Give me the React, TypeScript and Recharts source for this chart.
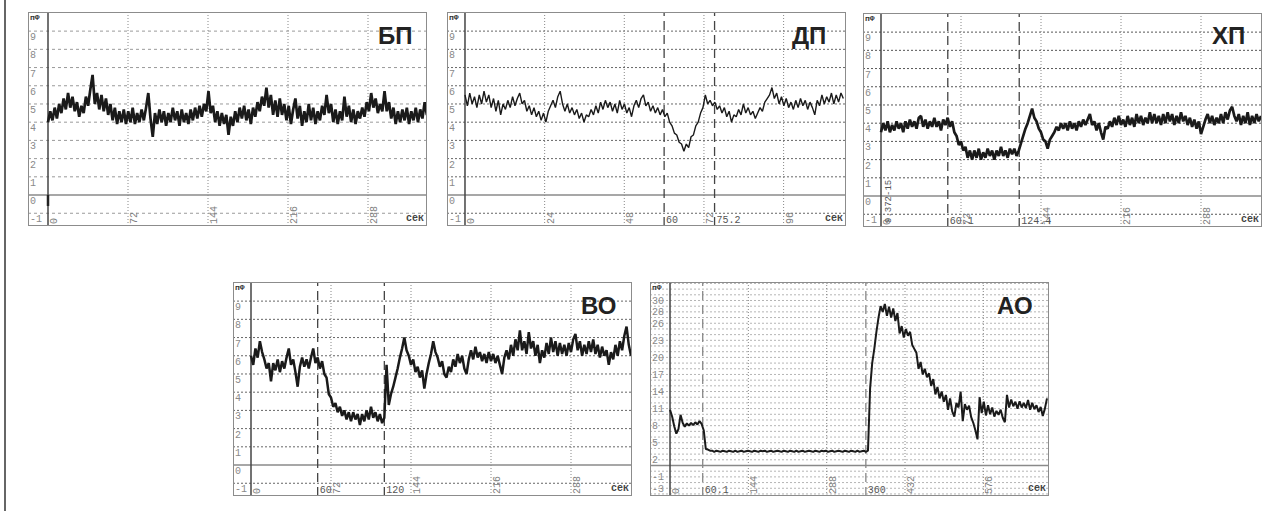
import { LineChart, Line, XAxis, YAxis, ReferenceLine } from 'recharts';

// readings, one value per sample, evenly spaced from 0 to the last second
const BP_VALUES = [
  4.0, 4.6, 4.1, 4.8, 4.2, 5.0, 4.5, 5.3, 4.7, 5.6,
  4.8, 5.4, 4.6, 5.1, 4.3, 4.9, 4.5, 5.4, 4.9, 5.8,
  6.6, 5.0, 5.6, 4.7, 5.5, 4.6, 5.3, 4.4, 5.0, 4.1,
  4.8, 3.9, 4.6, 4.0, 4.7, 3.9, 4.6, 4.0, 4.8, 3.9,
  4.5, 4.0, 4.7, 4.1, 4.8, 5.6, 4.2, 3.2, 4.5, 3.9,
  4.7, 4.0, 4.6, 3.8, 4.5, 4.0, 4.8, 4.1, 4.6, 3.8,
  4.7, 4.0, 4.5, 3.9, 4.7, 4.1, 4.8, 4.2, 4.9, 4.3,
  5.0, 4.6, 5.7, 4.5, 4.9, 4.0, 4.6, 3.8, 4.5, 3.9,
  4.4, 3.3, 4.3, 3.8, 4.6, 4.0, 4.8, 4.2, 4.9, 4.1,
  4.7, 3.9, 4.8, 4.3, 5.1, 4.6, 5.4, 4.9, 5.9, 4.8,
  5.5, 4.4, 5.2, 4.3, 5.3, 4.4, 5.0, 4.1, 4.9, 3.9,
  4.7, 5.3, 4.2, 4.9, 3.8, 4.6, 4.0, 5.0, 4.1, 4.8,
  3.9, 4.6, 4.1, 4.9, 4.4, 5.5, 4.5, 5.0, 4.0, 4.7,
  3.9, 4.6, 4.1, 5.4, 4.3, 4.9, 4.0, 4.7, 3.9, 4.6,
  4.2, 4.8, 4.3, 5.1, 4.6, 5.6, 4.8, 5.3, 4.5, 5.0,
  4.6, 5.7, 4.6, 5.1, 4.2, 4.8, 3.9, 4.6, 4.0, 4.7,
  4.1, 4.8, 3.9, 4.6, 4.1, 4.8, 4.0, 4.7, 4.2, 5.1,
  4.4,
];

const DP_VALUES = [
  5.5, 4.9, 5.6, 5.0, 5.4, 4.8, 5.5, 5.0, 5.7, 5.1,
  5.5, 4.8, 5.3, 4.6, 5.2, 4.4, 5.0, 4.7, 5.2, 4.8,
  5.4, 4.9, 5.3, 5.6, 5.0, 5.2, 4.6, 4.9, 4.4, 4.8,
  4.3, 4.6, 4.1, 4.5, 4.0, 4.6, 4.9, 5.2, 4.8, 5.4,
  5.7, 5.0, 4.6, 5.0, 4.5, 4.8, 4.4, 4.7, 4.2, 4.5,
  4.0, 4.4, 4.3, 4.7, 4.4, 4.9, 4.5, 5.1, 4.7, 5.2,
  4.8, 5.1, 4.6, 5.0, 4.5, 5.2, 4.7, 5.0, 4.5, 4.8,
  4.3, 4.9, 5.2, 4.8, 5.3, 5.5, 4.9, 5.1, 4.6, 4.9,
  4.5, 4.8, 4.4, 4.7, 4.3, 4.5, 4.0, 3.8, 3.4, 3.3,
  2.9, 2.8, 2.4, 2.8, 2.6, 3.2, 3.3, 3.8, 4.0, 4.5,
  4.8, 5.5, 5.0, 5.2, 4.9, 5.1, 4.7, 4.9, 4.5, 4.8,
  4.3, 4.6, 4.0, 4.4, 4.3, 4.7, 4.4, 5.0, 4.5, 4.8,
  4.4, 4.6, 4.2, 4.5, 4.8, 4.6, 5.1, 5.3, 5.5, 5.9,
  5.3, 5.6, 5.0, 5.4, 4.9, 5.3, 4.8, 5.1, 4.7, 5.2,
  4.8, 5.3, 4.9, 5.2, 4.7, 5.1, 4.8, 4.4, 5.2, 4.9,
  5.5, 5.0, 5.4, 5.1, 5.6, 5.0, 5.5, 5.1, 5.6, 5.3,
];

const XP_VALUES = [
  3.5, 4.0, 3.6, 4.1, 3.5, 3.9, 3.6, 4.1, 3.7, 4.0,
  3.5, 4.1, 3.7, 4.2, 3.8, 4.1, 3.7, 4.3, 4.4, 3.8,
  4.2, 3.7, 4.1, 3.8, 4.3, 3.8, 4.1, 3.6, 4.2, 3.9,
  4.3, 3.8, 4.1, 3.5, 3.3, 2.8, 3.0, 2.5, 2.7, 2.1,
  2.5, 2.0, 2.5, 2.1, 2.6, 2.0, 2.4, 2.1, 2.6, 2.2,
  2.5, 2.0, 2.5, 2.2, 2.7, 2.2, 2.5, 2.1, 2.6, 2.3,
  2.6, 2.2, 2.5, 2.9, 3.3, 3.7, 4.0, 4.4, 4.8, 4.3,
  4.1, 3.7, 3.5, 3.1, 3.0, 2.6, 3.1, 3.3, 3.5, 3.8,
  3.6, 4.0, 3.7, 4.0, 3.6, 4.1, 3.7, 4.0, 3.6, 4.1,
  3.8, 4.2, 3.9, 4.2, 4.5, 3.9, 4.1, 3.6, 4.0, 3.5,
  3.1, 3.8, 3.7, 4.1, 3.8, 4.3, 3.9, 4.4, 3.9, 4.2,
  3.8, 4.4, 3.9, 4.3, 3.8, 4.5, 4.0, 4.4, 3.9, 4.3,
  4.0, 4.6, 4.0, 4.5, 4.0, 4.4, 3.9, 4.5, 4.0, 4.6,
  4.1, 4.5, 3.9, 4.4, 4.0, 4.6, 4.1, 4.4, 3.9, 4.3,
  3.8, 4.2, 3.7, 4.1, 3.4, 3.8, 4.2, 4.5, 4.0, 4.4,
  3.9, 4.3, 4.0, 4.5, 4.0, 4.6, 4.2, 4.7, 4.9, 4.4,
  4.1, 4.5, 3.9, 4.4, 4.0, 4.6, 3.9, 4.4, 4.0, 4.5,
  4.1, 4.4,
];

const VO_VALUES = [
  6.0, 5.5, 6.4, 5.9, 6.8, 6.2, 5.8, 5.3, 5.6, 4.6,
  5.6, 5.2, 5.8, 5.1, 5.7, 5.3, 5.9, 6.4, 5.5, 5.8,
  5.1, 4.3, 5.4, 5.9, 5.4, 5.8, 5.3, 5.9, 6.4, 5.6,
  5.9, 5.3, 5.7, 5.0, 4.8, 3.9, 3.7, 3.2, 3.4, 2.9,
  3.2, 2.7, 3.0, 2.5, 2.9, 2.4, 2.9, 2.5, 2.8, 2.2,
  2.8, 2.4, 3.0, 2.5, 3.2, 2.6, 2.9, 2.4, 2.8, 2.3,
  2.6, 5.5, 3.3, 3.9, 4.3, 4.8, 5.3, 5.9, 6.4, 7.0,
  6.3, 6.0, 5.5, 5.8, 5.1, 5.4, 4.8, 5.2, 4.2, 5.0,
  5.6, 6.1, 6.8, 6.2, 5.9, 5.4, 5.7, 5.0, 4.8, 5.4,
  5.1, 5.8, 5.4, 6.1, 5.6, 6.0, 5.3, 5.0, 5.8, 6.3,
  5.8, 6.5, 5.9, 6.2, 5.7, 6.1, 5.6, 6.2, 5.7, 6.1,
  5.6, 6.0, 5.5, 5.0, 5.9, 6.3, 5.8, 6.6, 6.0, 6.9,
  6.3, 7.4, 6.3, 6.8, 6.1, 7.3, 6.4, 6.8, 6.0, 6.6,
  5.6, 6.3, 5.9, 6.7, 6.1, 7.0, 6.2, 6.8, 6.0, 6.7,
  6.1, 6.6, 6.0, 6.7, 6.2, 6.9, 7.2, 6.3, 6.8, 6.0,
  6.6, 6.1, 6.8, 6.2, 6.9, 6.1, 6.6, 5.9, 6.5, 6.0,
  6.3, 5.5, 6.2, 5.8, 6.6, 6.0, 6.8, 6.3, 7.1, 7.6,
  6.6, 6.0,
];

const AO_VALUES = [
  9.8, 8.6, 6.9, 5.6, 6.4, 8.9, 7.5, 6.8, 7.4, 7.0,
  7.5, 7.1, 7.6, 7.2, 7.8, 7.3, 6.2, 2.9, 2.8, 2.6,
  2.6, 2.4, 2.6, 2.5, 2.4, 2.6, 2.5, 2.4, 2.6, 2.5,
  2.4, 2.6, 2.4, 2.5, 2.6, 2.4, 2.5, 2.6, 2.5, 2.4,
  2.6, 2.5, 2.4, 2.6, 2.5, 2.6, 2.4, 2.5, 2.6, 2.4,
  2.5, 2.6, 2.5, 2.4, 2.6, 2.5, 2.4, 2.6, 2.5, 2.4,
  2.6, 2.4, 2.5, 2.6, 2.4, 2.5, 2.6, 2.5, 2.4, 2.6,
  2.5, 2.4, 2.6, 2.5, 2.6, 2.4, 2.5, 2.6, 2.4, 2.5,
  2.6, 2.5, 2.4, 2.6, 2.5, 2.4, 2.6, 2.5, 2.4, 2.6,
  2.4, 2.5, 2.6, 2.4, 2.6, 13.5, 18.0, 20.5, 23.5, 26.0,
  28.0, 27.0, 28.4, 26.3, 27.9, 26.0, 27.6, 25.4, 26.8, 23.2,
  24.5, 22.5, 24.0, 22.8, 23.5, 21.2, 20.5, 19.8, 17.0, 18.2,
  16.0, 17.0, 15.5, 16.2, 14.0, 15.2, 12.5, 13.8, 11.8, 13.0,
  11.2, 12.4, 9.8, 11.8, 9.5, 8.6, 11.0, 10.2, 13.0, 7.8,
  10.8, 9.8, 10.5, 8.5, 7.5, 6.2, 4.6, 12.0, 9.2, 11.2,
  8.8, 10.6, 9.0, 10.2, 8.6, 9.6, 8.9, 9.8, 8.4, 7.6,
  12.4, 10.2, 11.6, 10.4, 11.2, 10.0, 11.3, 10.2, 11.0, 10.1,
  11.5, 9.8, 11.0, 9.9, 10.6, 9.4, 10.3, 8.7, 10.0, 11.8,
];

// last sample time, seconds
const BP_END = 341;
const DP_END = 114;
const XP_END = 342;
const VO_END = 342;
const AO_END = 693;

// axis labels
const Y_LABELS = [-1, 0, 1, 2, 3, 4, 5, 6, 7, 8, 9];
const Y_GRID = [-1, 1, 2, 3, 4, 5, 6, 7, 8, 9];
const AO_Y_LABELS = [30, 28, 26, 23, 20, 17, 14, 11, 8, 5, 2, -1, -3];
const AO_Y_GRID = [
  -5, -4, -3, -2, -1, 1, 2, 3, 4, 5, 6, 7, 8, 9, 10, 11, 12, 13, 14, 15,
  16, 17, 18, 19, 20, 21, 22, 23, 24, 25, 26, 27, 28, 29, 30, 31, 32,
];
const SEC_TICKS = [72, 144, 216, 288];
const DP_TICKS = [24, 48, 72, 96];
const AO_TICKS = [144, 288, 432, 576];

type Mark = { t: number; text: string };
const DP_EVENTS: Mark[] = [{ t: 60, text: '60' }, { t: 75.2, text: '75.2' }];
const XP_EVENTS: Mark[] = [{ t: 60.1, text: '60.1' }, { t: 124.4, text: '124.4' }];
const VO_EVENTS: Mark[] = [{ t: 60, text: '60' }, { t: 120, text: '120' }];
const AO_EVENTS: Mark[] = [{ t: 60.1, text: '60.1' }, { t: 360, text: '360' }];

const BP_MARK = [0, -0.6];

const W = 399;
const H = 214;
const MONO = '"Liberation Mono", monospace';

// label renderers for ReferenceLine, positioned from the viewBox the library hands over
const yLabel = (text: string) => (lp: any) => {
  const vb = lp.viewBox || {};
  return (
    <text x={2} y={(vb.y ?? 0) + 9} fontSize={10} fill="#8a8a8a" fontFamily={MONO}>
      {text}
    </text>
  );
};

const xRotLabel = (text: string) => (lp: any) => {
  const vb = lp.viewBox || {};
  return (
    <text
      transform={`translate(${(vb.x ?? 0) + 9}, ${H - 2}) rotate(-90)`}
      fontSize={10}
      fill="#808080"
      fontFamily={MONO}
    >
      {text}
    </text>
  );
};

const xFlatLabel = (text: string) => (lp: any) => {
  const vb = lp.viewBox || {};
  return (
    <text x={(vb.x ?? 0) + 2} y={H - 3} fontSize={10} fill="#555" fontFamily={MONO}>
      {text}
    </text>
  );
};

interface PanelProps {
  left: number;
  top: number;
  values: number[];
  tEnd: number;
  xDomain: [number, number];
  yDomain: [number, number];
  yGrid: number[];
  yLabels: number[];
  xTicks: number[];
  events: Mark[];
  title: string;
  titleX: number;
  titleY: number;
  gridColor: string;
  gridDash: string;
  eventColor: string;
  lineWidth: number;
  mark?: number[];
  note?: string;
}

function Panel(p: PanelProps) {
  const rows = p.values.map((v, i) => ({ t: (i * p.tEnd) / (p.values.length - 1), v }));

  return (
    <div style={{ position: 'absolute', left: p.left, top: p.top, width: W, height: H }}>
      <LineChart width={W} height={H} data={rows} margin={{ top: 0, right: 0, bottom: 0, left: 0 }}>
        <XAxis type="number" dataKey="t" domain={p.xDomain} allowDataOverflow hide />
        <YAxis type="number" domain={p.yDomain} allowDataOverflow hide />
        {p.yGrid.map((y) => (
          <ReferenceLine key={`h${y}`} y={y} stroke={p.gridColor} strokeDasharray={p.gridDash} />
        ))}
        {p.yLabels.map((y) => (
          <ReferenceLine key={`yl${y}`} y={y} stroke="none" label={yLabel(String(y))} />
        ))}
        {p.xTicks.map((x) => (
          <ReferenceLine
            key={`v${x}`}
            x={x}
            stroke="#888"
            strokeDasharray="1 2"
            label={xRotLabel(String(x))}
          />
        ))}
        <ReferenceLine y={0} stroke="#8a8a8a" strokeWidth={1.5} />
        <ReferenceLine x={0} stroke="#444" strokeWidth={1.5} label={xRotLabel('0')} />
        {p.events.map((e) => (
          <ReferenceLine
            key={`e${e.t}`}
            x={e.t}
            stroke={p.eventColor}
            strokeWidth={1.3}
            strokeDasharray="9 5"
            label={xFlatLabel(e.text)}
          />
        ))}
        {p.mark && (
          <ReferenceLine
            segment={[{ x: 0, y: p.mark[0] }, { x: 0, y: p.mark[1] }]}
            stroke="#222"
            strokeWidth={2.5}
          />
        )}
        <Line
          type="linear"
          dataKey="v"
          stroke="#1a1a1a"
          strokeWidth={p.lineWidth}
          strokeLinejoin="bevel"
          dot={false}
          isAnimationActive={false}
        />
      </LineChart>
      <div
        style={{
          position: 'absolute', left: 0, top: 0, width: W, height: H,
          border: '1px solid #8c8c8c', boxSizing: 'border-box', pointerEvents: 'none',
        }}
      />
      <div style={{ position: 'absolute', left: 2, top: 1, fontSize: 8, fontWeight: 'bold', color: '#333', fontFamily: MONO }}>
        пФ
      </div>
      <div style={{ position: 'absolute', right: 3, bottom: 2, fontSize: 10, fontWeight: 'bold', color: '#444', fontFamily: MONO, lineHeight: '10px' }}>
        сек
      </div>
      {p.note && (
        <div
          style={{
            position: 'absolute', left: 21, top: 210, fontSize: 9, color: '#555', fontFamily: MONO,
            transform: 'rotate(-90deg)', transformOrigin: '0 0', whiteSpace: 'nowrap',
          }}
        >
          {p.note}
        </div>
      )}
      <div
        style={{
          position: 'absolute', left: p.titleX - p.left, top: p.titleY - p.top - 3,
          fontSize: 24, lineHeight: '24px', color: '#222', fontFamily: '"Liberation Sans", Arial, sans-serif',
          fontWeight: 'bold',
        }}
      >
        {p.title}
      </div>
    </div>
  );
}

export default function App() {
  return (
    <div style={{ position: 'absolute', left: 0, top: 0, width: 1280, height: 511, background: '#fff', overflow: 'hidden' }}>
      <div style={{ position: 'absolute', left: 4, top: 0, width: 1.5, height: 511, background: '#666' }} />
      <Panel
        left={28} top={12} values={BP_VALUES} tEnd={BP_END}
        xDomain={[-18, 341.1]} yDomain={[-1.7, 10.05]}
        yGrid={Y_GRID} yLabels={Y_LABELS} xTicks={SEC_TICKS} events={[]}
        title="БП" titleX={378} titleY={27}
        gridColor="#9a9a9a" gridDash="3 3" eventColor="#444" lineWidth={2.7}
        mark={BP_MARK}
      />
      <Panel
        left={447} top={12} values={DP_VALUES} tEnd={DP_END}
        xDomain={[-5.42, 114.8]} yDomain={[-1.7, 10.05]}
        yGrid={Y_GRID} yLabels={Y_LABELS} xTicks={DP_TICKS} events={DP_EVENTS}
        title="ДП" titleX={792} titleY={27}
        gridColor="#666" gridDash="2 2" eventColor="#444" lineWidth={1.4}
      />
      <Panel
        left={863} top={13} values={XP_VALUES} tEnd={XP_END}
        xDomain={[-16.2, 342.9]} yDomain={[-1.7, 10.05]}
        yGrid={Y_GRID} yLabels={Y_LABELS} xTicks={SEC_TICKS} events={XP_EVENTS}
        title="ХП" titleX={1212} titleY={27}
        gridColor="#555" gridDash="2 2" eventColor="#444" lineWidth={2.7}
        note="9.372-15"
      />
      <Panel
        left={233} top={282} values={VO_VALUES} tEnd={VO_END}
        xDomain={[-16.2, 342.9]} yDomain={[-1.7, 10.05]}
        yGrid={Y_GRID} yLabels={Y_LABELS} xTicks={SEC_TICKS} events={VO_EVENTS}
        title="ВО" titleX={581} titleY={297}
        gridColor="#666" gridDash="2 2" eventColor="#444" lineWidth={2.5}
      />
      <Panel
        left={650} top={282} values={AO_VALUES} tEnd={AO_END}
        xDomain={[-36.8, 696.7]} yDomain={[-5.36, 32.25]}
        yGrid={AO_Y_GRID} yLabels={AO_Y_LABELS} xTicks={AO_TICKS} events={AO_EVENTS}
        title="АО" titleX={997} titleY={297}
        gridColor="#b5b5b5" gridDash="2 2" eventColor="#888" lineWidth={2}
      />
    </div>
  );
}
